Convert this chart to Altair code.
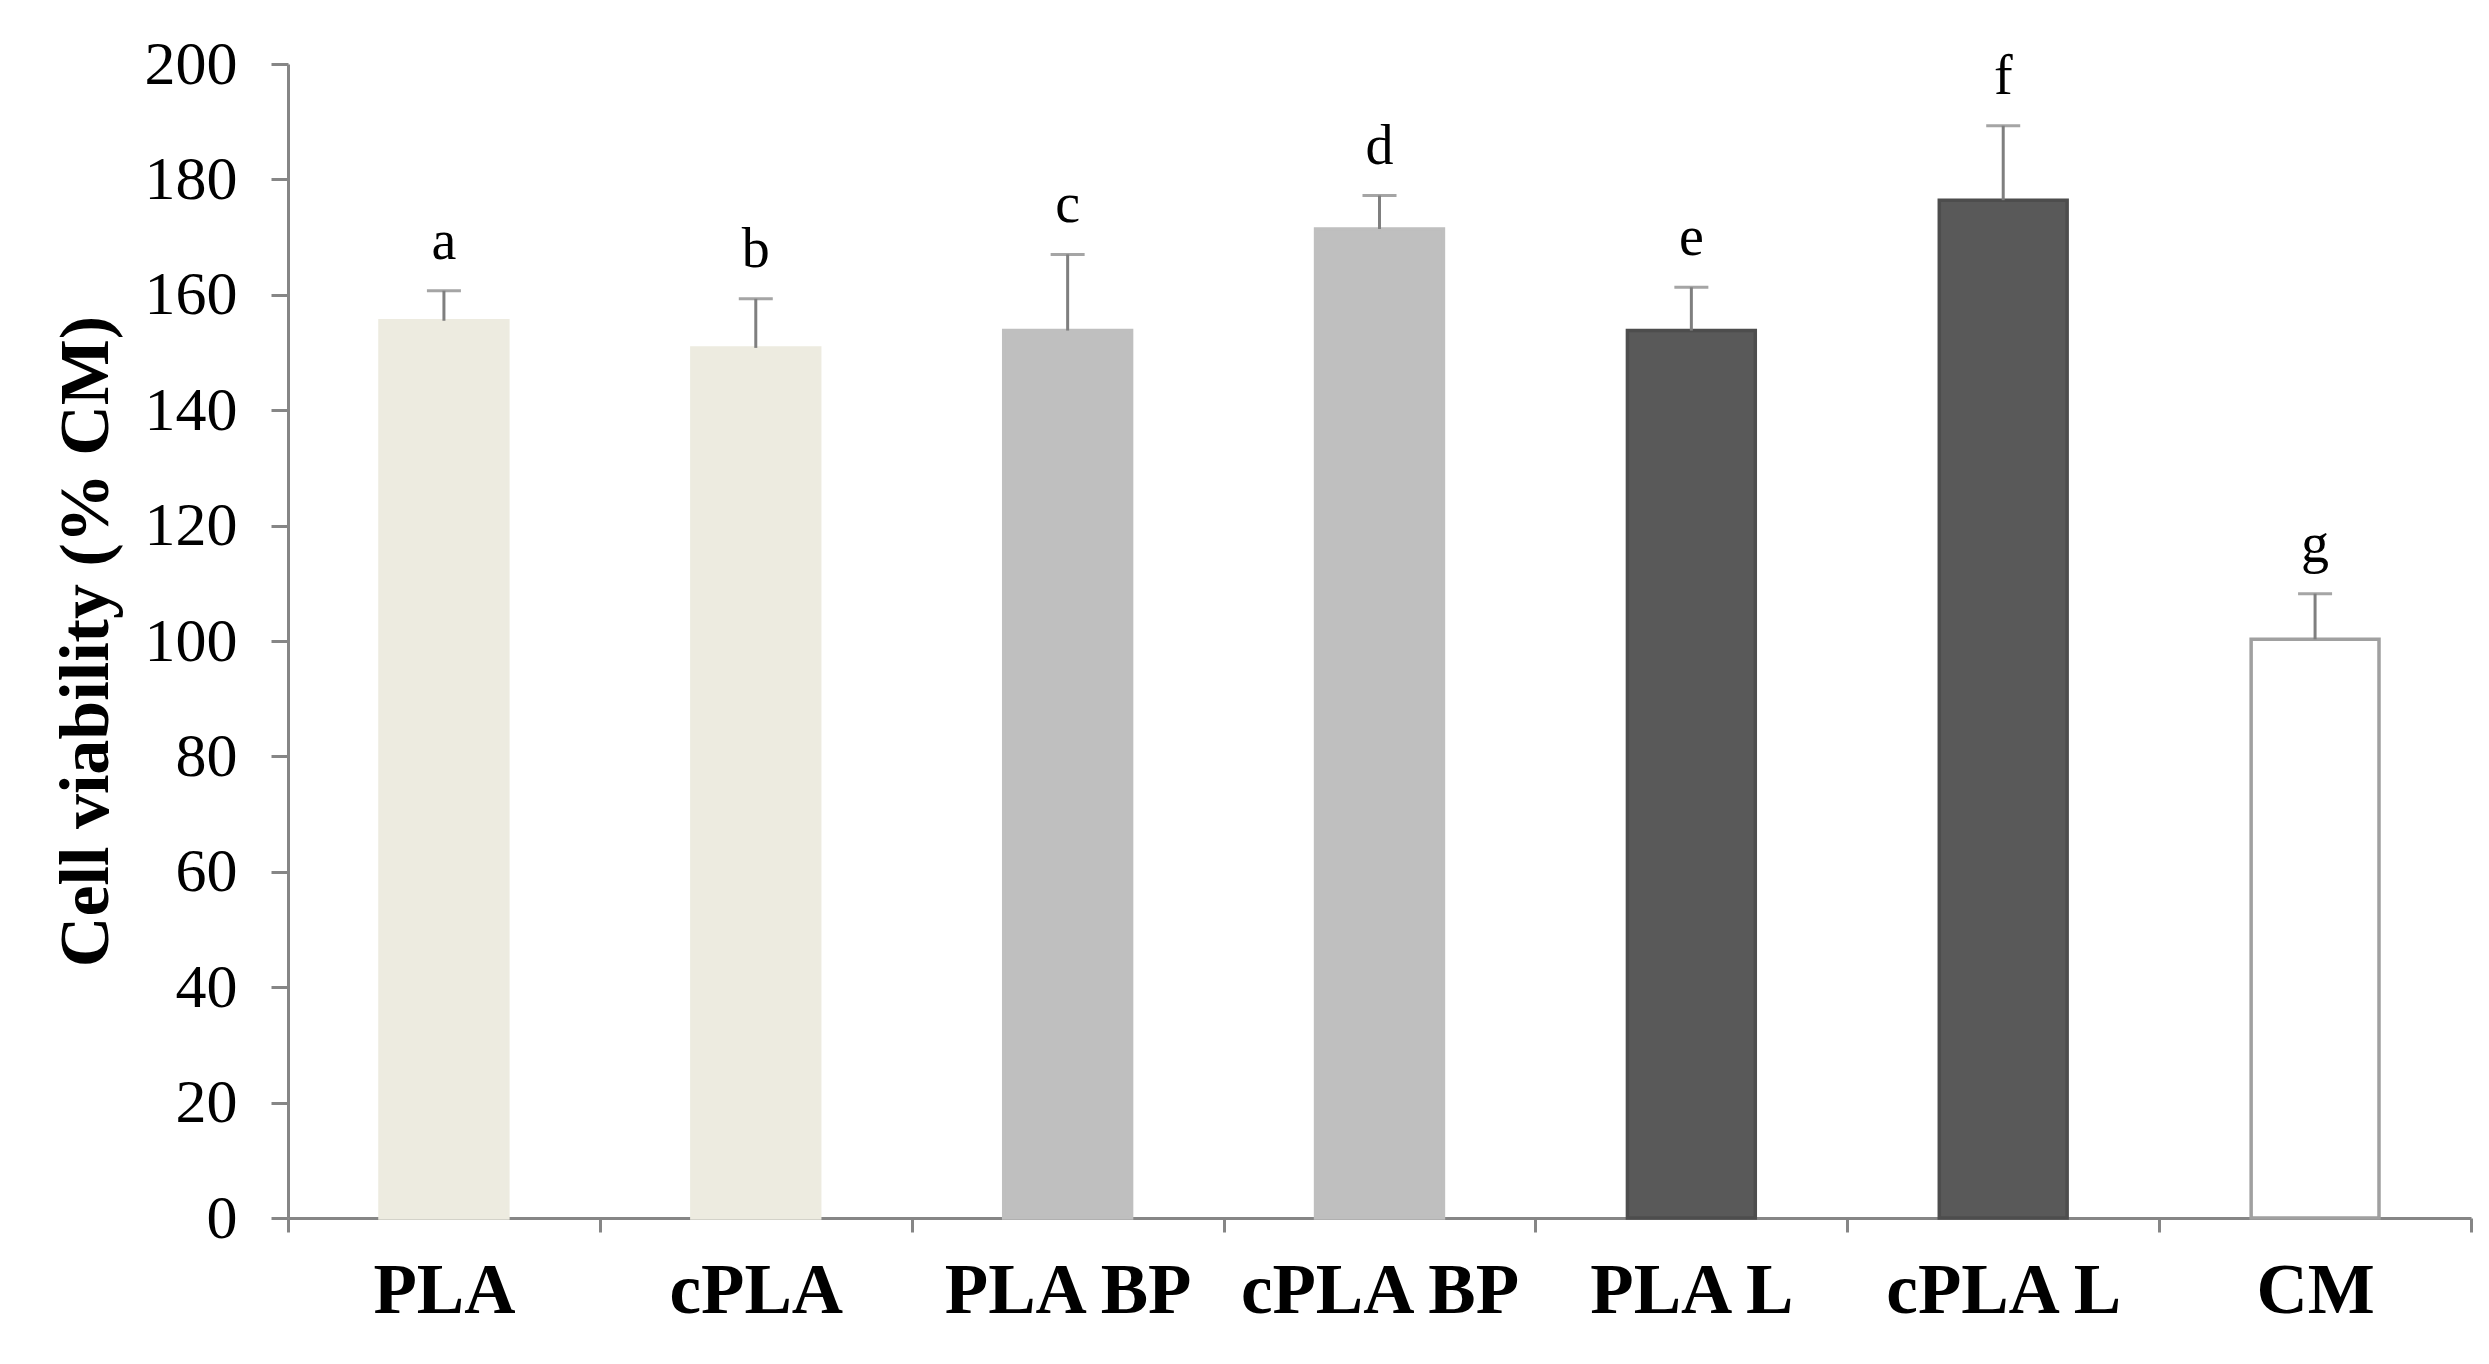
import altair as alt
import pandas as pd

# values (mean, upper SD)
categories = ["PLA", "cPLA", "PLA BP", "cPLA BP", "PLA L", "cPLA L", "CM"]
viability = [155.5, 150.8, 153.8, 171.4, 153.8, 176.4, 100.3]
sd = [5.2, 8.5, 13.2, 5.8, 7.5, 12.9, 7.9]
letters = ["a", "b", "c", "d", "e", "f", "g"]
fills = ["#edebe0", "#edebe0", "#bfbfbf", "#bfbfbf", "#595959", "#595959", "#ffffff"]
strokes = ["#edebe0", "#edebe0", "#bfbfbf", "#bfbfbf", "#4d4d4d", "#4d4d4d", "#a0a0a0"]

FONT = "Liberation Serif"
GREY = "#868686"

df = pd.DataFrame({
    "group": categories,
    "viability": viability,
    "sd": sd,
    "letter": letters,
    "fill": fills,
    "stroke": strokes,
})
df["top"] = df["viability"] + df["sd"]

x = alt.X(
    "group:N",
    sort=categories,
    title=None,
    scale=alt.Scale(paddingInner=0, paddingOuter=0),
    axis=alt.Axis(
        labelAngle=0, labelFont=FONT, labelFontSize=71, labelFontWeight="bold",
        labelColor="black", labelPadding=24, labelLimit=0, tickBand="extent",
        tickSize=14, tickColor=GREY, tickWidth=3, domainColor=GREY, domainWidth=3,
    ),
)
y_scale = alt.Scale(domain=[0, 200], nice=False)

base = alt.Chart(df).encode(x=x)

bars = base.mark_bar(strokeWidth=3.5, width=alt.RelativeBandSize(0.41)).encode(
    y=alt.Y(
        "viability:Q", scale=y_scale, title="Cell viability (% CM)",
        axis=alt.Axis(
            values=list(range(0, 201, 20)), grid=False, tickSize=17,
            tickColor=GREY, tickWidth=3, domainColor=GREY, domainWidth=3,
            labelFont=FONT, labelFontSize=62, labelColor="black", labelPadding=34,
            titleFont=FONT, titleFontSize=70, titleFontWeight="bold",
            titleColor="black", titlePadding=22,
        ),
    ),
    fill=alt.Fill("fill:N", scale=None),
    stroke=alt.Stroke("stroke:N", scale=None),
)

err = base.mark_rule(color="#7f7f7f", strokeWidth=3).encode(
    y=alt.Y("viability:Q", scale=y_scale), y2="top:Q"
)
cap = base.mark_tick(color="#7f7f7f", thickness=3, size=34).encode(
    y=alt.Y("top:Q", scale=y_scale)
)
labels = base.mark_text(font=FONT, fontSize=56, baseline="bottom", dy=-20, color="black").encode(
    y=alt.Y("top:Q", scale=y_scale), text="letter:N"
)

chart = (
    alt.layer(bars, err, cap, labels)
    .properties(
        width=2183, height=1154,
        autosize=alt.AutoSizeParams(type="none"),
        padding={"left": 280, "top": 56, "right": 10, "bottom": 138},
        background="white",
    )
    .configure_view(stroke=None)
)

chart.save("out.html", embed_options={"renderer": "svg", "actions": False})
